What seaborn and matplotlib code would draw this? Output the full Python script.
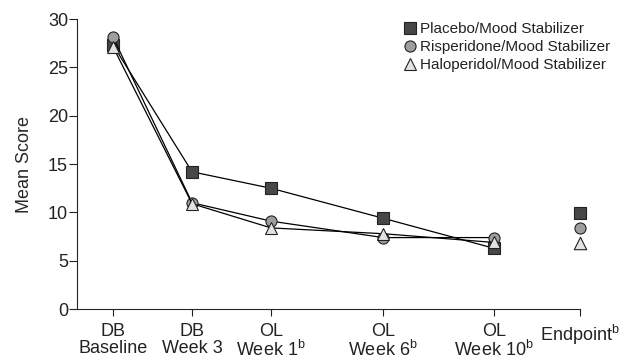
import matplotlib
matplotlib.use("Agg")
import matplotlib.pyplot as plt
from matplotlib.lines import Line2D
import seaborn as sns
import pandas as pd

# Time points (position on x axis)
rotulos = ["DB\nBaseline", "DB\nWeek 3", "OL\nWeek 1$^\\mathregular{b}$",
           "OL\nWeek 6$^\\mathregular{b}$", "OL\nWeek 10$^\\mathregular{b}$",
           "Endpoint$^\\mathregular{b}$"]
posicoes = [0, 1, 2, 3.42, 4.82, 5.91]

grupos = ["Placebo/Mood Stabilizer", "Risperidone/Mood Stabilizer",
          "Haloperidol/Mood Stabilizer"]
placebo = [27.3, 14.2, 12.5, 9.4, 6.3, 9.9]
risperidona = [28.1, 11.0, 9.1, 7.4, 7.4, 8.4]
haloperidol = [27.1, 10.9, 8.4, 7.8, 6.9, 6.8]

marcadores = ["s", "o", "^"]
cores = ["#474747", "#9e9e9e", "#e2e2e2"]

sns.set_style("ticks")
plt.rcParams['font.family'] = ['Liberation Sans', 'DejaVu Sans']
plt.rcParams['mathtext.fontset'] = 'custom'
plt.rcParams['mathtext.rm'] = 'Liberation Sans'
plt.rcParams['text.color'] = '#222222'
plt.rcParams['xtick.color'] = '#222222'
plt.rcParams['ytick.color'] = '#222222'

fig = plt.figure(figsize=(6.22, 3.62), dpi=100)
ax = fig.add_axes([0.124, 0.146, 0.808, 0.8015])

for nome, valores, m, c in zip(grupos, [placebo, risperidona, haloperidol], marcadores, cores):
    df = pd.DataFrame({"x": posicoes, "y": valores})
    # visitas conectadas (sem o endpoint)
    sns.lineplot(data=df.iloc[:5], x="x", y="y", ax=ax, color="black", lw=0.9,
                 marker=m, markersize=8 if m != "^" else 9, markerfacecolor=c,
                 markeredgecolor="#222222", markeredgewidth=0.8)
    # endpoint isolado
    sns.scatterplot(data=df.iloc[5:], x="x", y="y", ax=ax, marker=m,
                    s=64 if m != "^" else 80, color=c, edgecolor="#222222",
                    linewidth=0.8, clip_on=False, zorder=5)

ax.set_xlim(-0.456, 5.91)
ax.set_ylim(0, 30)
ax.set_yticks([0, 5, 10, 15, 20, 25, 30])
ax.set_xticks(posicoes)
ax.set_xticklabels(rotulos, fontsize=13, linespacing=1.0)
ax.tick_params(axis='y', labelsize=13, length=5.5, width=0.8, pad=1)
ax.tick_params(axis='x', length=5, width=0.8, pad=5)
ax.set_xlabel("")
ax.set_ylabel("Mean Score", fontsize=13, labelpad=11)
for s in ["top", "right"]:
    ax.spines[s].set_visible(False)
for s in ["left", "bottom"]:
    ax.spines[s].set_linewidth(0.8)

handles = [Line2D([], [], linestyle='none', marker=m, markersize=8, markerfacecolor=c,
                  markeredgecolor="#222222", markeredgewidth=0.8)
           for m, c in zip(marcadores, cores)]
ax.legend(handles, grupos, loc="upper left", bbox_to_anchor=(0.652, 0.99), frameon=False,
          fontsize=11, handlelength=0.7, handletextpad=0.3, labelspacing=0.28,
          borderaxespad=0.0, borderpad=0.0)

fig.savefig("out.png", dpi=100)
